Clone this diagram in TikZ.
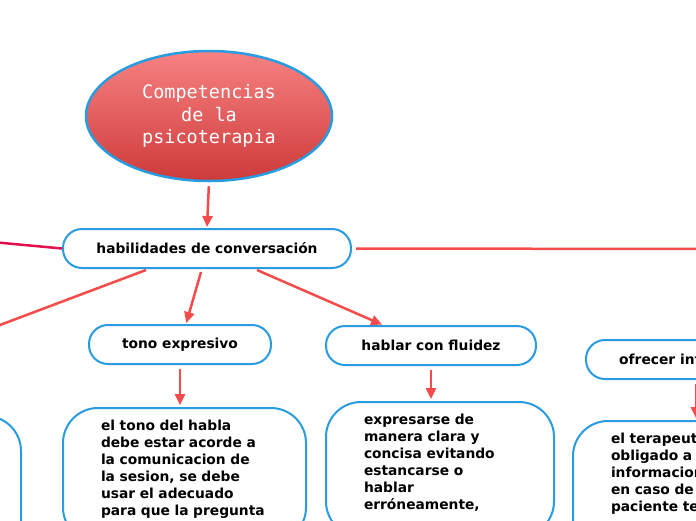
\documentclass[tikz,border=0pt]{standalone}
\usepackage{fontspec}
\setmainfont{DejaVu Sans}
\newfontfamily\titlefont{DejaVu Sans Mono}
\usepackage{tikz}
\usetikzlibrary{arrows.meta,positioning,shapes.geometric,calc}
\usepackage{xcolor}
\definecolor{mapblue}{RGB}{41,155,224}
\definecolor{mapred}{RGB}{245,75,75}
\definecolor{mapcrimson}{RGB}{226,16,76}
\definecolor{roottop}{RGB}{247,130,130}
\definecolor{rootbot}{RGB}{206,58,58}

\begin{document}
\begin{tikzpicture}[x=1pt,y=-1pt,
  topic/.style={draw=mapblue, line width=2pt, rounded corners=19pt, fill=white,
    minimum height=39pt, inner xsep=0pt, font=\fontsize{13.8}{17}\selectfont\bfseries},
  leaf/.style={draw=mapblue, line width=2pt, rounded corners=35pt, fill=white,
    anchor=north west, align=left, inner xsep=38pt, inner ysep=12pt,
    font=\fontsize{13.8}{17}\selectfont\bfseries},
  link/.style={draw=mapred, line width=2.5pt},
  arr/.style={link, -{Triangle[length=11pt,width=10pt]}}]
  \useasboundingbox (0,0) rectangle (696,520);

  % central topic
  \node[ellipse, draw=mapblue, line width=2.5pt, top color=roottop, bottom color=rootbot,
        minimum width=246pt, minimum height=130pt, align=center, text=white,
        font=\titlefont\fontsize{18.5}{22.5}\selectfont] (root) at (209,116)
    {Competencias\\de la\\psicoterapia};

  % main branch and its subtopics
  \node[topic, minimum width=288pt] (conv) at (207,248.5) {habilidades de conversación};
  \node[topic, minimum width=182pt] (tono) at (180,344.5) {tono expresivo};
  \node[topic, minimum width=210pt] (fluidez) at (431,345.5) {hablar con fluidez};
  \node[topic, minimum width=220pt] (ofrecer) at (696,359.5) {ofrecer información};

  % detail boxes
  \node[leaf, text width=167pt, text depth=100pt] (tonotxt) at (62,407)
    {el tono del habla\\debe estar acorde a\\la comunicacion de\\la sesion, se debe\\usar el adecuado\\para que la pregunta};
  \node[leaf, text width=152pt, text depth=100pt] (fluidtxt) at (325,401)
    {expresarse de\\manera clara y\\concisa evitando\\estancarse o\\hablar\\erróneamente,};
  \node[leaf, text width=170pt, text depth=100pt] (ofrecertxt) at (572,420)
    {el terapeuta\\obligado a\\informacion\\en caso de\\paciente te};
  \node[leaf, anchor=north east, minimum width=240pt, minimum height=200pt] (izqtxt) at (22,415) {};

  % free ends off the page
  \coordinate (izqpadre) at (-40,239);
  \coordinate (derecha) at (720,249);
  \coordinate (izqhijo) at (-20,332.5);

  % connectors
  \draw[arr, shorten <=4pt, shorten >=1pt] (root.south) -- (conv.north);
  \draw[link, draw=mapcrimson] (conv.west) -- (izqpadre);
  \draw[link, shorten <=4pt] (conv.east) -- (derecha);
  \draw[arr] ([xshift=-61pt,yshift=-1pt]conv.south) -- (izqhijo);
  \draw[arr, shorten >=1pt] ([xshift=-6pt,yshift=-3pt]conv.south) -- ([xshift=6pt]tono.north);
  \draw[arr, shorten >=1pt] ([xshift=50pt,yshift=-1pt]conv.south) -- ([xshift=-48pt]fluidez.north);
  \draw[arr, shorten <=4pt, shorten >=2pt] (tono.south) -- (tono.south |- tonotxt.north);
  \draw[arr, shorten <=4pt, shorten >=2pt] (fluidez.south) -- (fluidez.south |- fluidtxt.north);
  \draw[arr, shorten <=4pt, shorten >=2pt] (ofrecer.south) -- (ofrecer.south |- ofrecertxt.north);
\end{tikzpicture}
\end{document}
